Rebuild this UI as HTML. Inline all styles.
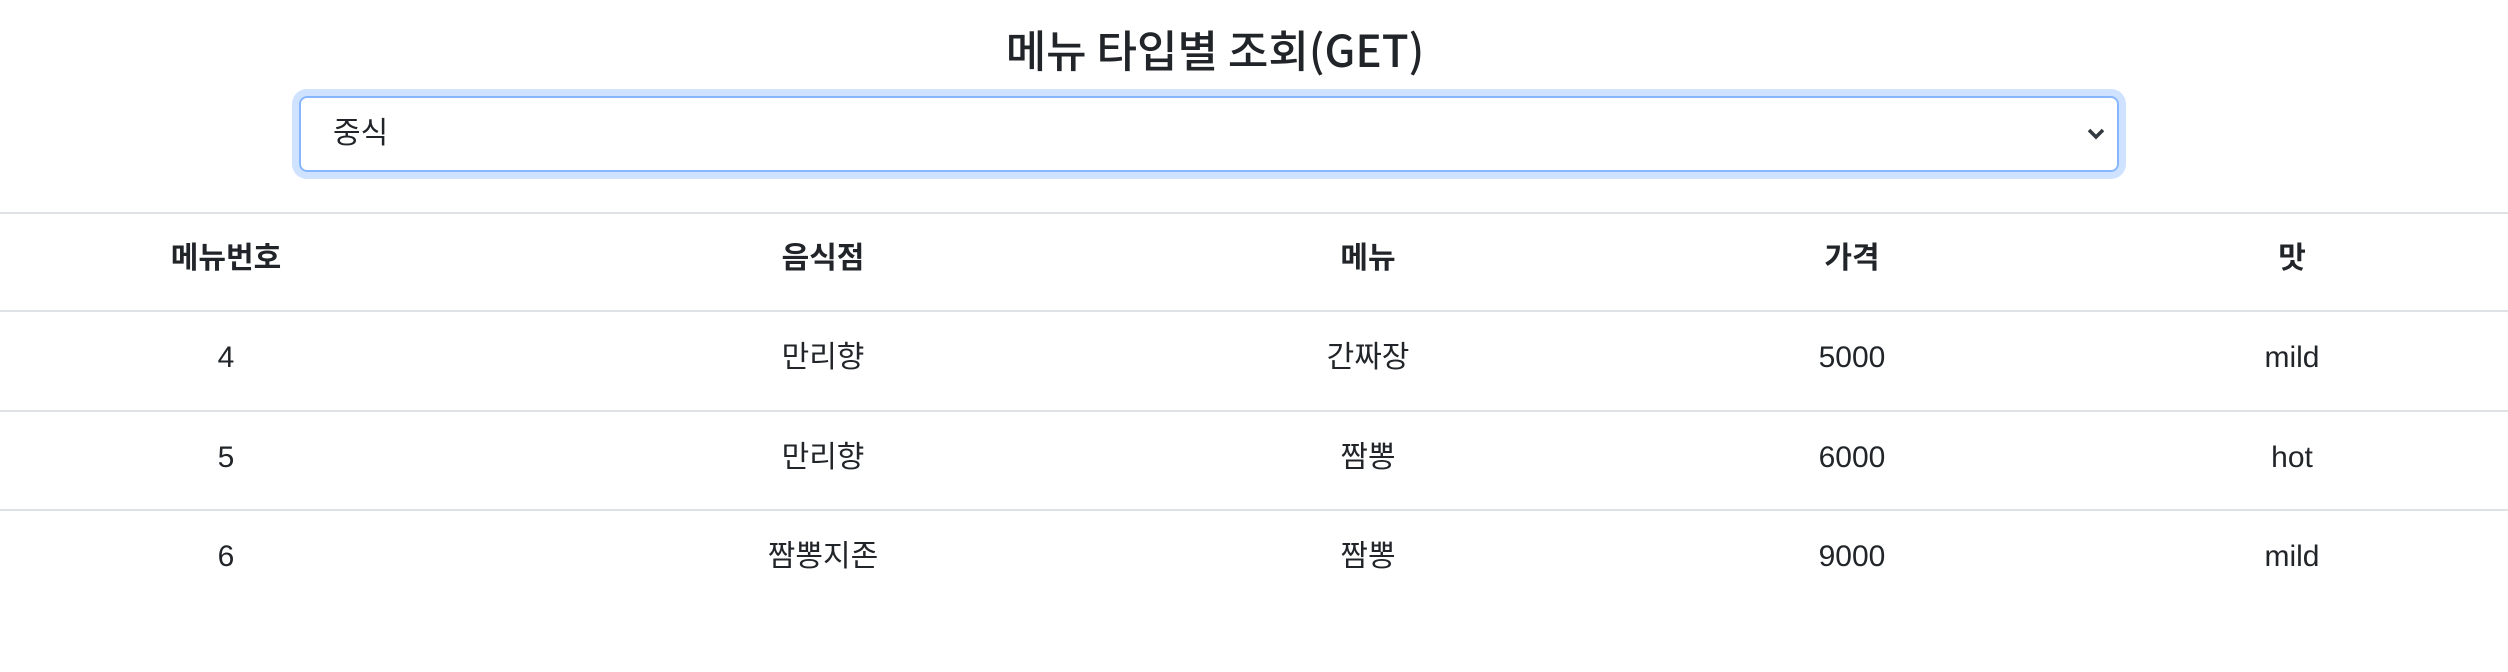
<!DOCTYPE html>
<html><head><meta charset="utf-8"><style>
body{margin:0;width:2508px;height:672px;background:#fff;font-family:"Liberation Sans","Noto Sans CJK KR",sans-serif;color:#212529;position:relative;overflow:hidden}
.t{position:absolute;left:915px;width:600px;top:20px;text-align:center;font-family:"Noto Sans CJK KR","Liberation Sans",sans-serif;font-size:44px;font-weight:500;line-height:56px;white-space:nowrap}
.sel{position:absolute;left:299px;top:96px;width:1816px;height:72px;border:2px solid #86b7fe;border-radius:8px;box-shadow:0 0 0 7px #cfe2ff;box-sizing:content-box}
.sel span{position:absolute;left:32px;top:16px;font-size:30px;line-height:40px;color:#212529}
.chev{position:absolute;right:10px;top:26px}
.line{position:absolute;left:0;width:2508px;height:2px;background:#dee2e6}
.c{position:absolute;width:400px;margin-left:-200px;text-align:center;font-size:30px;line-height:40px;white-space:nowrap}
.h{font-weight:bold}
</style></head><body>
<div class="t">메뉴 타입별 조회(GET)</div>
<div class="sel"><span>중식</span>
<svg class="chev" width="22" height="20" viewBox="0 0 22 20"><path d="M4 6 L11 13 L18 6" fill="none" stroke="#343a40" stroke-width="3.5"/></svg></div>
<div class="line" style="top:212px"></div>
<div class="line" style="top:310px"></div>
<div class="line" style="top:410px"></div>
<div class="line" style="top:509px"></div>
<div id="tbl"></div>
<script>
const headers=["메뉴번호","음식점","메뉴","가격","맛"];
const col1=["4","5","6"];
const col2=["만리향","만리향","짬뽕지존"];
const col3=["간짜장","짬뽕","짬뽕"];
const col4=["5000","6000","9000"];
const col5=["mild","hot","mild"];
const xs=[226,823,1368,1852,2292];
const tbl=document.getElementById('tbl');
function cell(txt,x,y,cls,name){const d=document.createElement('div');d.className='c '+cls;d.style.left=x+'px';d.style.top=y+'px';d.textContent=txt;


tbl.appendChild(d);}
headers.forEach((h,i)=>cell(h,xs[i],239,'h','header-cell'));
const cols=[col1,col2,col3,col4,col5];
for(let r=0;r<3;r++){cols.forEach((c,i)=>cell(c[r],xs[i],338+r*99.5,'','table-cell'));}
</script>
</body></html>
